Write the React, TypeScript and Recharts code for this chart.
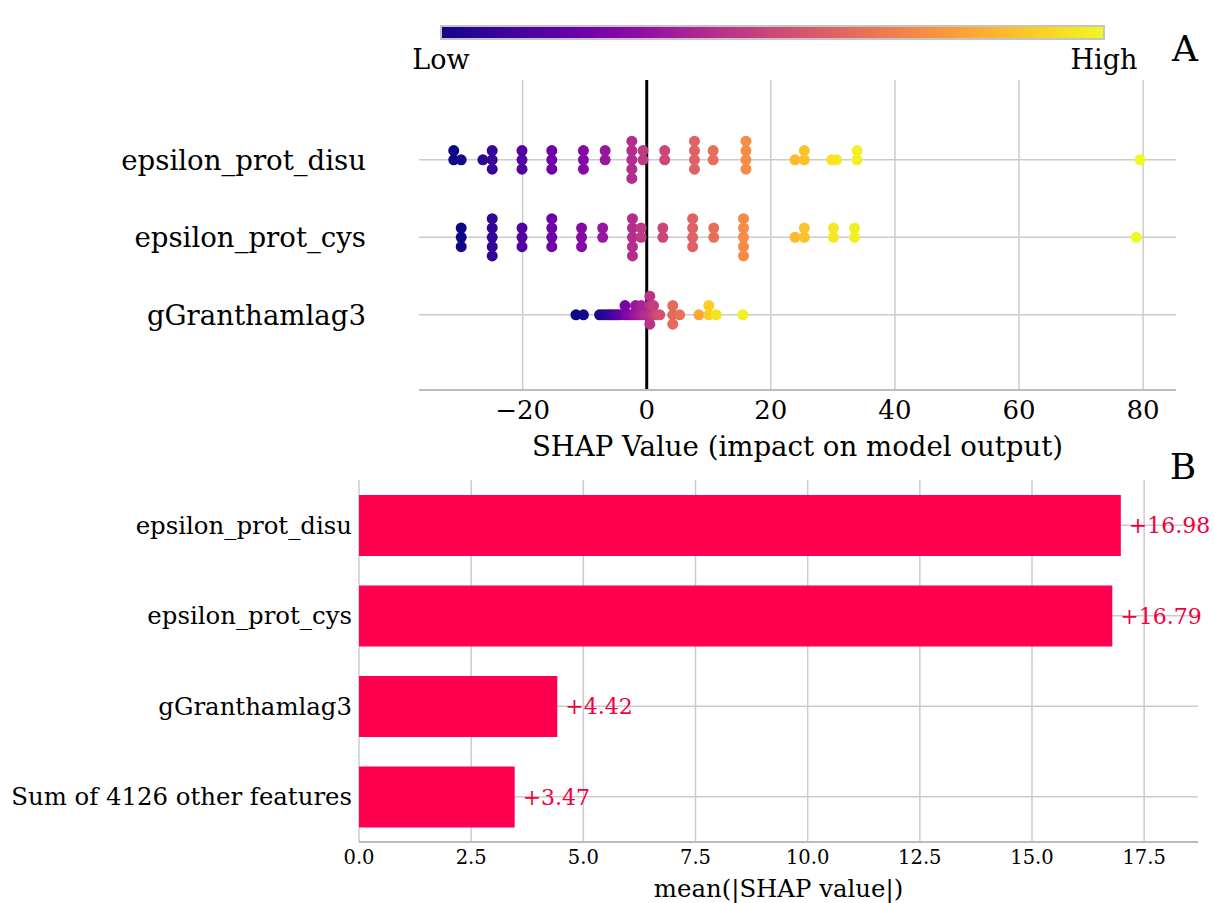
import React from "react";
import {
  ScatterChart,
  Scatter,
  Cell,
  BarChart,
  Bar,
  LabelList,
  XAxis,
  YAxis,
  CartesianGrid,
  ReferenceLine,
} from "recharts";

const FONT = "DejaVu Serif";
const SHAP_RED = "#ff0051";
const GRID = "#cccccc";

// beeswarm rows: [shap value, normalised feature value 0..1]
const featureNames = ["epsilon_prot_disu", "epsilon_prot_cys", "gGranthamlag3"];

const disuPoints: [number, number][] = [
  [-31.1, 0.0], [-31.1, 0.0], [-29.9, 0.02],
  [-26.4, 0.06], [-24.9, 0.08], [-24.9, 0.08], [-24.9, 0.08],
  [-20.1, 0.14], [-20.1, 0.14], [-20.1, 0.14],
  [-15.3, 0.21], [-15.3, 0.21], [-15.3, 0.21],
  [-10.2, 0.27], [-10.2, 0.27], [-10.2, 0.27],
  [-6.7, 0.33], [-6.7, 0.33],
  [-2.4, 0.41], [-2.4, 0.41], [-2.4, 0.41], [-2.4, 0.41], [-2.4, 0.41],
  [-0.6, 0.45], [-0.6, 0.45],
  [2.9, 0.5], [2.9, 0.5],
  [7.7, 0.59], [7.7, 0.59], [7.7, 0.59], [7.7, 0.59],
  [10.7, 0.63], [10.7, 0.63],
  [16.0, 0.72], [16.0, 0.72], [16.0, 0.72], [16.0, 0.72],
  [23.9, 0.85], [25.4, 0.87], [25.4, 0.87],
  [29.8, 0.95], [30.6, 0.96],
  [33.9, 0.98], [33.9, 0.98],
  [79.5, 1.0],
];

const cysPoints: [number, number][] = [
  [-29.9, 0.0], [-29.9, 0.0], [-29.9, 0.0],
  [-24.9, 0.07], [-24.9, 0.07], [-24.9, 0.07], [-24.9, 0.07], [-24.9, 0.07],
  [-20.1, 0.14], [-20.1, 0.14], [-20.1, 0.14],
  [-15.3, 0.21], [-15.3, 0.21], [-15.3, 0.21], [-15.3, 0.21],
  [-10.5, 0.27], [-10.5, 0.27], [-10.5, 0.27],
  [-7.1, 0.33], [-7.1, 0.33],
  [-2.3, 0.41], [-2.3, 0.41], [-2.3, 0.41], [-2.3, 0.41], [-2.3, 0.41],
  [-0.9, 0.45], [-0.9, 0.45],
  [2.6, 0.5], [2.6, 0.5],
  [7.4, 0.59], [7.4, 0.59], [7.4, 0.59], [7.4, 0.59],
  [10.8, 0.63], [10.8, 0.63],
  [15.6, 0.72], [15.6, 0.72], [15.6, 0.72], [15.6, 0.72], [15.6, 0.72],
  [23.9, 0.85], [25.4, 0.87], [25.4, 0.87],
  [30.1, 0.96], [30.1, 0.96],
  [33.5, 0.98], [33.5, 0.98],
  [78.9, 1.0],
];

const granthamPoints: [number, number][] = [
  [-11.4, 0.0], [-10.2, 0.02],
  [-7.6, 0.03], [-7.1, 0.04], [-6.6, 0.05], [-6.1, 0.07], [-5.7, 0.09],
  [-5.2, 0.11], [-4.8, 0.14], [-4.3, 0.17],
  [-3.5, 0.24], [-3.5, 0.24],
  [-3.0, 0.26], [-2.6, 0.28], [-2.2, 0.3],
  [-1.8, 0.33], [-1.8, 0.33],
  [-1.3, 0.35], [-0.9, 0.37], [-0.9, 0.37], [-0.4, 0.4],
  [0.5, 0.43], [0.5, 0.43], [0.5, 0.43], [0.5, 0.43],
  [1.1, 0.47], [1.1, 0.47], [1.6, 0.5], [2.1, 0.53],
  [4.2, 0.62], [4.2, 0.62], [4.2, 0.62], [5.3, 0.64],
  [8.4, 0.8], [10.0, 0.9], [10.0, 0.9], [11.2, 0.95],
  [15.5, 0.98],
];

const shapTicks = [-20, 0, 20, 40, 60, 80];
const rowTicks = [1, 2, 3];

// bar panel
const barNames = [
  "epsilon_prot_disu",
  "epsilon_prot_cys",
  "gGranthamlag3",
  "Sum of 4126 other features",
];
const barValues = [16.98, 16.79, 4.42, 3.47];
const meanTicks = [0, 2.5, 5, 7.5, 10, 12.5, 15, 17.5];

const PLASMA = [
  "#0d0887", "#41049d", "#6a00a8", "#8f0da4", "#b12a90", "#cc4778",
  "#e16462", "#f2844b", "#fca636", "#fcce25", "#f0f921",
];

function hex(c: string) {
  return [1, 3, 5].map((i) => parseInt(c.slice(i, i + 2), 16));
}

function plasma(t: number) {
  const v = Math.max(0, Math.min(1, t)) * 10;
  const i = Math.min(9, Math.floor(v));
  const f = v - i;
  const a = hex(PLASMA[i]);
  const b = hex(PLASMA[i + 1]);
  const rgb = a.map((x, k) => Math.round(x + (b[k] - x) * f));
  return `rgb(${rgb.join(",")})`;
}

// same stacking as shap's beeswarm: bin values, alternate layers up / down
function swarmOffsets(vals: number[], nbins = 100, rowHeight = 0.4) {
  const lo = Math.min(...vals);
  const hi = Math.max(...vals);
  const quant = vals.map((v) => Math.round((nbins * (v - lo)) / (hi - lo + 1e-8)));
  const order = vals.map((_, i) => i).sort((a, b) => quant[a] - quant[b] || a - b);
  const ys = new Array(vals.length).fill(0);
  let layer = 0;
  let last = -1;
  for (const ind of order) {
    if (quant[ind] !== last) layer = 0;
    ys[ind] = Math.ceil(layer / 2) * ((layer % 2) * 2 - 1);
    layer += 1;
    last = quant[ind];
  }
  const maxY = Math.max(...ys.map((y) => y + 1));
  return ys.map((y) => y * 0.9 * (rowHeight / maxY));
}

const rows = [disuPoints, cysPoints, granthamPoints];
const swarmData = rows.flatMap((pts, r) => {
  const pos = rows.length - r;
  const offs = swarmOffsets(pts.map((p) => p[0]));
  return pts.map((p, i) => ({ x: p[0], y: pos + offs[i], fill: plasma(p[1]) }));
});

const barData = barNames.map((name, i) => ({ name, value: barValues[i] }));

const fmtShap = (v: number) => (v < 0 ? "\u2212" + Math.abs(v) : String(v));

function Dot(props: any) {
  return <circle cx={props.cx} cy={props.cy} r={5.5} fill={props.payload.fill} />;
}

export default function App() {
  return (
    <div
      style={{
        position: "absolute",
        left: 0,
        top: 0,
        width: 1214,
        height: 903,
        background: "#fff",
        fontFamily: FONT,
      }}
    >
      <div style={{ position: "absolute", left: 0, top: 0 }}>
        <ScatterChart
          width={1214}
          height={470}
          margin={{ top: 80, right: 38, left: 0, bottom: 0 }}
        >
          <CartesianGrid
            stroke={GRID}
            strokeWidth={1.5}
            verticalValues={shapTicks}
            horizontalValues={rowTicks}
          />
          <XAxis
            type="number"
            dataKey="x"
            domain={[-36.7, 85.3]}
            ticks={shapTicks}
            allowDataOverflow
            tickFormatter={fmtShap}
            tickLine={false}
            axisLine={{ stroke: "#bbbbbb", strokeWidth: 2 }}
            tick={{ fill: "#000", fontSize: 26, fontFamily: FONT }}
            tickMargin={5}
            height={80}
            label={{
              value: "SHAP Value (impact on model output)",
              position: "insideBottom",
              offset: 14,
              fill: "#000",
              fontSize: 27.6,
              fontFamily: FONT,
            }}
          />
          <YAxis
            type="number"
            dataKey="y"
            domain={[0.03, 4.03]}
            allowDataOverflow
            ticks={rowTicks}
            tickFormatter={(v: number) => featureNames[3 - v]}
            axisLine={false}
            tickLine={false}
            width={419}
            tickMargin={47}
            tick={{ fill: "#000", fontSize: 27.6, fontFamily: FONT }}
          />
          <Scatter data={swarmData} shape={Dot} isAnimationActive={false}>
            {swarmData.map((d, i) => (
              <Cell key={i} fill={d.fill} />
            ))}
          </Scatter>
          <ReferenceLine x={0} stroke="#000" strokeWidth={3} />
        </ScatterChart>
      </div>

      <div style={{ position: "absolute", left: 0, top: 460 }}>
        <BarChart
          width={1214}
          height={443}
          layout="vertical"
          data={barData}
          margin={{ top: 20, right: 16, left: 0, bottom: 0 }}
        >
          <CartesianGrid
            stroke={GRID}
            strokeWidth={1.5}
            verticalValues={meanTicks}
            horizontalValues={barNames}
          />
          <XAxis
            type="number"
            domain={[0, 18.7]}
            ticks={meanTicks}
            allowDataOverflow
            tickFormatter={(v: number) => v.toFixed(1)}
            tickLine={false}
            axisLine={{ stroke: "#bbbbbb", strokeWidth: 2 }}
            tick={{ fill: "#000", fontSize: 19.5, fontFamily: FONT }}
            tickMargin={2}
            height={61}
            label={{
              value: "mean(|SHAP value|)",
              position: "insideBottom",
              offset: 6,
              fill: "#000",
              fontSize: 24.4,
              fontFamily: FONT,
            }}
          />
          <YAxis
            type="category"
            dataKey="name"
            axisLine={false}
            tickLine={false}
            width={359}
            tickMargin={1}
            tick={{ fill: "#000", fontSize: 24.4, fontFamily: FONT }}
          />
          <Bar dataKey="value" fill={SHAP_RED} barSize={61} isAnimationActive={false}>
            <LabelList
              dataKey="value"
              position="right"
              offset={8}
              formatter={(v: any) => "+" + Number(v).toFixed(2)}
              fill="#f0003f"
              fontSize={22}
              fontFamily={FONT}
            />
          </Bar>
        </BarChart>
      </div>

      <svg
        width={1214}
        height={903}
        style={{ position: "absolute", left: 0, top: 0, pointerEvents: "none" }}
        fontFamily={FONT}
      >
        <defs>
          <linearGradient id="plasma" x1="0" x2="1" y1="0" y2="0">
            {PLASMA.map((c, i) => (
              <stop key={i} offset={i / (PLASMA.length - 1)} stopColor={c} />
            ))}
          </linearGradient>
        </defs>
        <rect x={441} y={26} width={663} height={13} fill="url(#plasma)" stroke="#c4c4c4" strokeWidth={2} />
        <text x={441} y={69} fontSize={27} textAnchor="middle" fill="#000">Low</text>
        <text x={1104} y={69} fontSize={27} textAnchor="middle" fill="#000">High</text>
        <text x={1185} y={61} fontSize={36} textAnchor="middle" fill="#000">A</text>
        <text x={1183} y={479} fontSize={36} textAnchor="middle" fill="#000">B</text>
      </svg>
    </div>
  );
}
